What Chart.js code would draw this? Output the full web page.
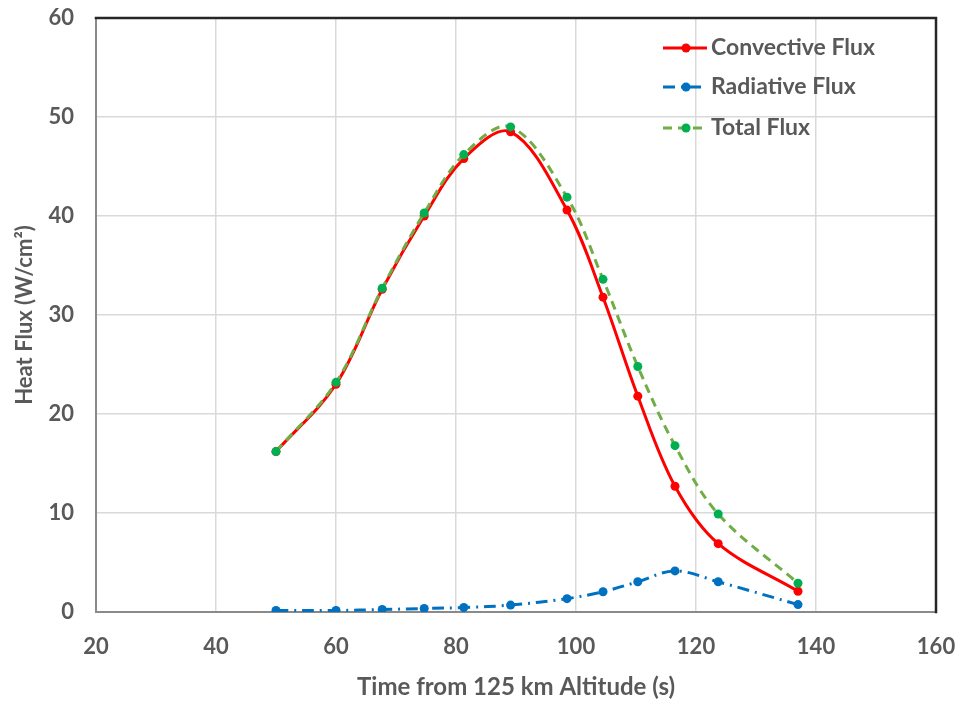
<!DOCTYPE html>
<html>
<head>
<meta charset="utf-8">
<script src="https://cdn.jsdelivr.net/npm/chart.js@4.4.1/dist/chart.umd.min.js"></script>
<style>
  html, body { margin: 0; padding: 0; background: #ffffff; }
  #wrap { width: 955px; height: 702px; }
</style>
</head>
<body>
<div id="wrap"><canvas id="c" width="955" height="702"></canvas></div>
<script>
// ---- data ----
const timeS      = [50, 60, 67.7, 74.7, 81.3, 89.1, 98.5, 104.5, 110.3, 116.5, 123.7, 137];
const convective = [16.2, 23.0, 32.6, 40.0, 45.8, 48.5, 40.6, 31.8, 21.8, 12.7, 6.9, 2.1];
const radiative  = [0.15, 0.15, 0.25, 0.35, 0.45, 0.7, 1.35, 2.05, 3.05, 4.15, 3.05, 0.75];
const total      = [16.2, 23.2, 32.7, 40.3, 46.2, 49.0, 41.9, 33.6, 24.8, 16.8, 9.9, 2.9];
const seriesNames = ['Convective Flux', 'Radiative Flux', 'Total Flux'];
const xTicks = [20, 40, 60, 80, 100, 120, 140, 160];
const yTicks = [0, 10, 20, 30, 40, 50, 60];
const xTitle = 'Time from 125 km Altitude (s)';
const yTitle = 'Heat Flux (W/cm\u00B2)';

const pts = (ys) => timeS.map((t, i) => ({ x: t, y: ys[i] }));

const FONT = 'Lato, "Open Sans", sans-serif';
const TXT = '#595959';

const styles = [
  { line: '#FF0000', mark: '#FF0000', dash: [] },
  { line: '#0070C0', mark: '#0070C0', dash: [12, 6, 2, 6] },
  { line: '#70AD47', mark: '#00B050', dash: [9, 6] }
];

const frameAndLegend = {
  id: 'frameAndLegend',
  beforeDatasetsDraw(chart) {
    const { ctx, chartArea: a } = chart;
    ctx.save();
    ctx.lineCap = 'square';
    ctx.strokeStyle = '#8a8a8a';
    ctx.lineWidth = 2;
    ctx.beginPath();
    ctx.moveTo(a.left, a.top); ctx.lineTo(a.left, a.bottom); ctx.lineTo(a.right, a.bottom);
    ctx.stroke();
    ctx.strokeStyle = '#262626';
    ctx.lineWidth = 2.5;
    ctx.beginPath();
    ctx.moveTo(a.left, a.top); ctx.lineTo(a.right, a.top); ctx.lineTo(a.right, a.bottom);
    ctx.stroke();
    ctx.restore();
  },
  afterDraw(chart) {
    const { ctx } = chart;
    const ys = [48, 87, 128];
    ctx.save();
    seriesNames.forEach((name, i) => {
      const s = styles[i];
      const y = ys[i];
      ctx.strokeStyle = s.line;
      ctx.lineWidth = 3;
      ctx.setLineDash(s.dash);
      ctx.beginPath();
      ctx.moveTo(663, y); ctx.lineTo(707, y);
      ctx.stroke();
      ctx.setLineDash([]);
      ctx.fillStyle = s.mark;
      ctx.beginPath();
      ctx.arc(686, y, 4.5, 0, Math.PI * 2);
      ctx.fill();
      ctx.fillStyle = TXT;
      ctx.font = 'bold 23px ' + FONT;
      ctx.textAlign = 'left';
      ctx.textBaseline = 'middle';
      ctx.fillText(name, 711, y);
    });
    ctx.restore();
  }
};

const mk = (label, ys, i, order) => ({
  label,
  data: pts(ys),
  borderColor: styles[i].line,
  backgroundColor: styles[i].mark,
  pointBackgroundColor: styles[i].mark,
  pointBorderColor: styles[i].mark,
  pointRadius: 4.5,
  pointBorderWidth: 0,
  borderWidth: 3,
  borderDash: styles[i].dash,
  tension: 0.35,
  fill: false,
  order
});

new Chart(document.getElementById('c'), {
  type: 'line',
  data: {
    datasets: [
      mk(seriesNames[0], convective, 0, 1),
      mk(seriesNames[1], radiative, 1, 2),
      mk(seriesNames[2], total, 2, 0)
    ]
  },
  options: {
    responsive: false,
    animation: false,
    devicePixelRatio: 1,
    layout: { padding: { top: 18, right: 19, left: 0, bottom: 0 } },
    plugins: { legend: { display: false }, tooltip: { enabled: false } },
    scales: {
      x: {
        type: 'linear',
        min: xTicks[0], max: xTicks[xTicks.length - 1],
        afterBuildTicks: (s) => { s.ticks = xTicks.map(v => ({ value: v })); },
        afterFit: (s) => { s.height = 90; s.paddingLeft = 0; s.paddingRight = 0; },
        grid: { color: '#d9d9d9', lineWidth: 1.5, drawTicks: false },
        border: { display: false },
        ticks: { color: TXT, font: { family: FONT, size: 22, weight: 'bold' }, padding: 22, maxRotation: 0 },
        title: { display: true, text: xTitle, color: TXT, font: { family: FONT, size: 24, weight: 'bold' }, padding: { top: 0, bottom: 0 } }
      },
      y: {
        min: yTicks[0], max: yTicks[yTicks.length - 1],
        afterBuildTicks: (s) => { s.ticks = yTicks.map(v => ({ value: v })); },
        afterFit: (s) => { s.width = 96; s.paddingTop = 0; s.paddingBottom = 0; },
        grid: { color: '#d9d9d9', lineWidth: 1.5, drawTicks: false },
        border: { display: false },
        ticks: { color: TXT, font: { family: FONT, size: 22, weight: 'bold' }, padding: 22 },
        title: { display: true, text: yTitle, color: TXT, font: { family: FONT, size: 22, weight: 'bold' }, padding: { top: 12, bottom: 0 } }
      }
    }
  },
  plugins: [frameAndLegend]
});
</script>
</body>
</html>
